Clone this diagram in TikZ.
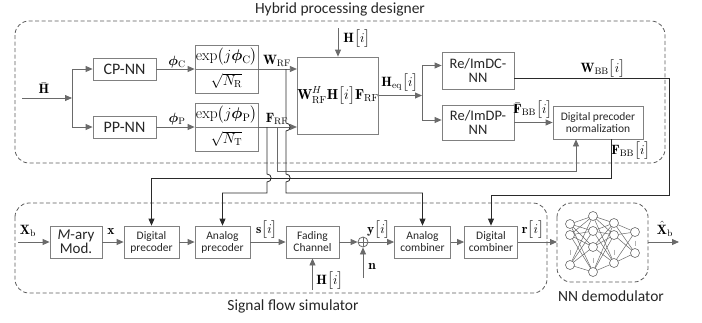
\RequirePackage{fix-cm}
\documentclass[tikz,border=0pt]{standalone}
\usepackage{amsmath}
\usepackage{bm}
\usepackage{fontspec}
\newfontfamily\calfont{Carlito}
\usetikzlibrary{arrows.meta,calc}
\definecolor{boxc}{HTML}{808080}
\definecolor{linec}{HTML}{6A6A6A}
\definecolor{darkc}{HTML}{2A2A2A}
\definecolor{dashc}{HTML}{5A5A5A}
\definecolor{txtc}{HTML}{262626}
\begin{document}
\begin{tikzpicture}[x=1pt,y=-1pt,
  box/.style={draw=boxc, line width=0.8pt, inner sep=0pt, align=center, text=txtc},
  bigtxt/.style={font=\calfont\fontsize{16}{17}\selectfont},
  midtxt/.style={font=\calfont\fontsize{14.5}{13.5}\selectfont},
  smalltxt/.style={font=\calfont\fontsize{11.5}{12}\selectfont},
  ln/.style={draw=linec, line width=0.8pt},
  dk/.style={draw=darkc, line width=0.8pt},
  arr/.style={-{Triangle[length=7pt,width=6pt]}},
  dashbox/.style={draw=dashc, line width=0.8pt, dash pattern=on 4pt off 2.5pt, rounded corners=14pt},
  lab/.style={inner sep=0.5pt, text=black, font=\fontsize{13.5}{14}\selectfont},
  ttl/.style={inner sep=0pt, text=txtc, font=\calfont\fontsize{15.5}{16}\selectfont},
  neur/.style={circle, draw=linec, fill=white, line width=0.6pt, minimum size=9pt, inner sep=0pt},
]
\useasboundingbox (0,0) rectangle (702,322);

% ---------- dashed regions ----------
\draw[dashbox] (15,21) rectangle (665,163);
\draw[dashbox] (15,203) rectangle (547,293);
\draw[dashbox] (557,203) rectangle (648,282);
\node[ttl] (t1) at (340,9) {Hybrid processing designer};
\node[ttl] (t2) at (293,306) {Signal flow simulator};
\node[ttl] (t3) at (611,296) {NN demodulator};

% ---------- top boxes ----------
\node[box, bigtxt, minimum width=63pt, minimum height=22pt] (cpnn) at (124.5,69) {CP-NN};
\node[box, bigtxt, minimum width=63pt, minimum height=22pt] (ppnn) at (124.5,127) {PP-NN};
\node[box, minimum width=63pt, minimum height=48pt] (exp1) at (226.5,69) {};
\node[box, minimum width=63pt, minimum height=48pt] (exp2) at (226.5,127) {};
\draw[draw=boxc, line width=0.8pt] (exp1.west) -- (exp1.east);
\draw[draw=boxc, line width=0.8pt] (exp2.west) -- (exp2.east);
\node[lab, font=\fontsize{15.5}{16}\selectfont] (e1t) at (226.5,57) {$\exp\bigl(j\bm{\phi}_{\mathrm{C}}\bigr)$};
\node[lab, font=\fontsize{14.5}{15}\selectfont] (e1b) at (226.5,81) {$\sqrt{N_{\mathrm{R}}}$};
\node[lab, font=\fontsize{15.5}{16}\selectfont] (e2t) at (226.5,115) {$\exp\bigl(j\bm{\phi}_{\mathrm{P}}\bigr)$};
\node[lab, font=\fontsize{14.5}{15}\selectfont] (e2b) at (226.5,139) {$\sqrt{N_{\mathrm{T}}}$};
\node[box, minimum width=80pt, minimum height=77pt, font=\fontsize{14.5}{15}\selectfont, text=black] (prod) at (338,95.5)
  {$\mathbf{W}_{\mathrm{RF}}^{H}\mathbf{H}\bigl[i\bigr]\mathbf{F}_{\mathrm{RF}}$};
\node[box, midtxt, minimum width=72pt, minimum height=37pt] (dcnn) at (478,70.5) {Re/ImDC-\\NN};
\node[box, midtxt, minimum width=72pt, minimum height=35pt] (dpnn) at (478,122.5) {Re/ImDP-\\NN};
\node[box, font=\calfont\fontsize{11.5}{12}\selectfont, minimum width=90pt, minimum height=33pt] (norm) at (598,122.5) {Digital precoder\\normalization};

% ---------- top labels ----------
\node[lab] (lhbar) at (44,88) {$\bar{\mathbf{H}}$};
\node[lab] (lphic) at (177,62) {$\bm{\phi}_{\mathrm{C}}$};
\node[lab] (lphip) at (177,119) {$\bm{\phi}_{\mathrm{P}}$};
\node[lab] (lwrf) at (277,61) {$\mathbf{W}_{\mathrm{RF}}$};
\node[lab] (lfrf) at (277,119) {$\mathbf{F}_{\mathrm{RF}}$};
\node[lab] (lhi) at (357,39) {$\mathbf{H}\bigl[i\bigr]$};
\node[lab] (lheq) at (400,83) {$\mathbf{H}_{\mathrm{eq}}\bigl[i\bigr]$};
\node[lab] (lwbb) at (603,69) {$\mathbf{W}_{\mathrm{BB}}\bigl[i\bigr]$};
\node[lab] (lfbbar) at (533,110) {$\bar{\mathbf{F}}_{\mathrm{BB}}\bigl[i\bigr]$};
\node[lab] (lfbb) at (631,151) {$\mathbf{F}_{\mathrm{BB}}\bigl[i\bigr]$};

% ---------- bottom boxes ----------
\node[box, font=\calfont\fontsize{15}{12.5}\selectfont, minimum width=52pt, minimum height=32pt] (mary) at (76,242) {{\itshape M}-ary\\Mod.};
\node[box, smalltxt, minimum width=55pt, minimum height=32pt] (dprec) at (151.5,242) {Digital\\precoder};
\node[box, smalltxt, minimum width=55pt, minimum height=32pt] (aprec) at (222.5,242) {Analog\\precoder};
\node[box, smalltxt, minimum width=53pt, minimum height=32pt] (fade) at (312.5,242) {Fading\\Channel};
\node[circle, draw=linec, line width=0.8pt, minimum size=10pt, inner sep=0pt] (sum) at (363,242) {};
\draw[ln] (sum.north) -- (sum.south);
\draw[ln] (sum.west) -- (sum.east);
\node[box, smalltxt, minimum width=56pt, minimum height=32pt] (acomb) at (422.5,242) {Analog\\combiner};
\node[box, smalltxt, minimum width=53pt, minimum height=32pt] (dcomb) at (491,242) {Digital\\combiner};

% ---------- bottom labels ----------
\node[lab] (lxb) at (28,231) {$\mathbf{X}_{\mathrm{b}}$};
\node[lab] (lx) at (111,231) {$\mathbf{x}$};
\node[lab] (ls) at (267,230) {$\mathbf{s}\bigl[i\bigr]$};
\node[lab] (ly) at (379,230) {$\mathbf{y}\bigl[i\bigr]$};
\node[lab] (lnn) at (372,266) {$\mathbf{n}$};
\node[lab] (lhb) at (330,281) {$\mathbf{H}\bigl[i\bigr]$};
\node[lab] (lr) at (533,230) {$\mathbf{r}\bigl[i\bigr]$};
\node[lab] (lxh) at (665,229) {$\hat{\mathbf{X}}_{\mathrm{b}}$};

% ---------- coordinates ----------
\coordinate (hin) at (22,98);
\coordinate (j1) at (72,98);
\coordinate (hitop) at (338,28);
\coordinate (j2) at (422,95.5);
\coordinate (xbin) at (18,242);
\coordinate (hbot) at (312.5,290);
\coordinate (nin) at (363,278);
\coordinate (xout) at (679,242);

% ---------- top connectors ----------
\draw[ln, arr] (hin) -- (j1);
\draw[ln, arr] (j1) |- (cpnn.west);
\draw[ln, arr] (j1) |- (ppnn.west);
\draw[ln, arr] (cpnn.east) -- (exp1.west);
\draw[ln, arr] (ppnn.east) -- (exp2.west);
\draw[ln, arr] (exp1.east) -- (exp1.east -| prod.west);
\draw[ln, arr] (exp2.east) -- (exp2.east -| prod.west);
\draw[ln, arr] (hitop) -- (prod.north);
\draw[ln, arr] (prod.east) -- (j2);
\draw[ln, arr] (j2) |- ([yshift=5pt]dcnn.west);
\draw[ln, arr] (j2) |- ([yshift=2.5pt]dpnn.west);
\draw[ln, arr] (dpnn.east) -- (norm.west);

% W_BB to digital combiner
\draw[dk, arr] ([yshift=-8pt]dcnn.east) -- (669,78.5) -- (669,195) -| (dcomb.north);
% F_BB to digital precoder
\draw[dk, arr] ([xshift=13pt]norm.south) -- (611,178) -| (dprec.north);
% F_RF to analog precoder
\draw[dk, arr] (267,127) -- (267,174) .. controls (272.5,174) and (272.5,182) .. (267,182) -- (267,193) -| (aprec.north);
% F_RF to normalization
\draw[ln, arr] (277,127) -- (277,171) -| ([xshift=-22pt]norm.south);
% W_RF to analog combiner
\draw[dk, arr] (286,69) -- (286,123) .. controls (291.5,123) and (291.5,131) .. (286,131)
  -- (286,174) .. controls (291.5,174) and (291.5,182) .. (286,182) -- (286,193) -| (acomb.north);

% ---------- bottom connectors ----------
\draw[ln, arr] (xbin) -- (mary.west);
\draw[ln, arr] (mary.east) -- (dprec.west);
\draw[ln, arr] (dprec.east) -- (aprec.west);
\draw[ln, arr] (aprec.east) -- (fade.west);
\draw[ln, arr] (fade.east) -- (sum.west);
\draw[ln, arr] (sum.east) -- (acomb.west);
\draw[ln, arr] (acomb.east) -- (dcomb.west);
\draw[ln, arr] (dcomb.east) -- (557,242);
\draw[ln, arr] (hbot) -- (fade.south);
\draw[ln, arr] (nin) -- (sum.south);
\draw[ln, arr] (648,242) -- (xout);

% ---------- neural network ----------
\foreach \i/\y in {1/224,2/235,3/265} \coordinate (a\i) at (570,\y);
\foreach \i/\y in {1/216,2/231,3/247,4/272} \coordinate (b\i) at (593,\y);
\foreach \i/\y in {1/223,2/235,3/263} \coordinate (c\i) at (614,\y);
\foreach \i/\y in {1/232,2/253} \coordinate (d\i) at (635,\y);
\foreach \i in {1,2,3} \foreach \j in {1,2,3,4} \draw[draw=linec, line width=0.5pt] (a\i) -- (b\j);
\foreach \i in {1,2,3,4} \foreach \j in {1,2,3} \draw[draw=linec, line width=0.5pt] (b\i) -- (c\j);
\foreach \i in {1,2,3} \foreach \j in {1,2} \draw[draw=linec, line width=0.5pt] (c\i) -- (d\j);
\foreach \p in {a1,a2,a3,b1,b2,b3,b4,c1,c2,c3,d1,d2} \node[neur] (n\p) at (\p) {};
\foreach \x/\y in {570/252,593/260,614/252,635/243} \draw[draw=gray!60, line width=0.6pt] (\x,\y-2.5) -- (\x,\y+2.5);

\end{tikzpicture}
\end{document}
